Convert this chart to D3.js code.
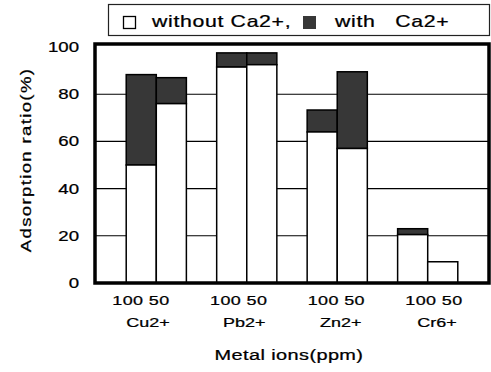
<!DOCTYPE html>
<html>
<head>
<meta charset="utf-8">
<script src="https://cdn.jsdelivr.net/npm/d3@7"></script>
<style>
  html, body { margin: 0; padding: 0; background: #fff; }
  svg { display: block; }
  text { font-family: "Liberation Sans", Arial, Helvetica, sans-serif; fill: #000; stroke: #000; stroke-width: 0.25px; }
</style>
</head>
<body>
<svg id="chart" width="491" height="372"></svg>
<script>
// ---- data ----
const groups = ["Cu2+", "Pb2+", "Zn2+", "Cr6+"];
const concentrations = ["100", "50"];
// adsorption ratio (%) without Ca2+ (white part)
const without100 = [50, 91.5, 64, 20.5];
const without50  = [76, 92.5, 57, 9];
// adsorption ratio (%) with Ca2+ (top of dark part)
const with100 = [88.3, 97.5, 73.3, 23];
const with50  = [87, 97.5, 89.5, 9];
const yTicks = [0, 20, 40, 60, 80, 100];
const gridTicks = [20, 40, 60, 80];
const legendLabels = ["without Ca2+,", "with   Ca2+"];
const xTitle = "Metal ions(ppm)";
const yTitle = "Adsorption ratio(%)";

// ---- layout ----
const svg = d3.select("#chart");
const SX = 1.33; // horizontal stretch of the lettering
const frame = { left: 95, right: 489, top: 44, bottom: 283 };
const darkFill = "#373737";

const y = d3.scaleLinear().domain([0, 100]).range([283, 47]);
const x = d3.scaleBand().domain(groups).range([frame.left, frame.right])
  .paddingInner(0.335).paddingOuter(0.345);
const xSub = d3.scaleBand().domain(concentrations).range([0, x.bandwidth()]);
const labelX = d3.scalePoint().domain(groups).range([141, 434]);
const nameX = d3.scalePoint().domain(groups).range([148, 437]);

function stretchedText(parent, tx, ty, str, size, anchor, rot, ls) {
  const g = parent.append("g")
    .attr("transform", `translate(${tx},${ty})${rot ? ` rotate(${rot})` : ""} scale(${SX},1)`);
  g.append("text")
    .attr("text-anchor", anchor)
    .style("font-size", size + "px")
    .style("letter-spacing", (ls || 0) + "px")
    .style("white-space", "pre")
    .text(str);
  return g;
}

// gridlines
const grid = svg.append("g");
grid.selectAll("line").data(gridTicks).join("line")
  .attr("x1", frame.left).attr("x2", frame.right)
  .attr("y1", d => y(d)).attr("y2", d => y(d))
  .attr("stroke", "#000").attr("stroke-width", 1.1);

// bars
const withoutVals = { "100": without100, "50": without50 };
const withVals = { "100": with100, "50": with50 };
const barData = [];
groups.forEach((g, i) => {
  concentrations.forEach(c => {
    barData.push({ group: g, conc: c, without: withoutVals[c][i], withCa: withVals[c][i] });
  });
});
const bars = svg.append("g").selectAll("g").data(barData).join("g")
  .attr("transform", d => `translate(${x(d.group) + xSub(d.conc)},0)`);
bars.filter(d => d.withCa > d.without).append("rect")
  .attr("x", 0).attr("width", xSub.bandwidth())
  .attr("y", d => y(d.withCa)).attr("height", d => y(d.without) - y(d.withCa))
  .attr("fill", darkFill).attr("stroke", "#000").attr("stroke-width", 1.5);
bars.append("rect")
  .attr("x", 0).attr("width", xSub.bandwidth())
  .attr("y", d => y(d.without)).attr("height", d => y(0) - y(d.without))
  .attr("fill", "#fff").attr("stroke", "#000").attr("stroke-width", 1.5);

// frame
svg.append("rect")
  .attr("x", frame.left).attr("y", frame.top)
  .attr("width", frame.right - frame.left).attr("height", frame.bottom - frame.top)
  .attr("fill", "none").attr("stroke", "#000").attr("stroke-width", 3.5);

// y tick labels
yTicks.forEach(t => {
  stretchedText(svg, 79, y(t) + 5, String(t), 14, "end", 0, 0);
});

// x labels: concentrations and ions
groups.forEach(g => {
  stretchedText(svg, labelX(g), 305, concentrations.join(" "), 13.5, "middle", 0, 0.3);
  stretchedText(svg, nameX(g), 327, g, 13.5, "middle", 0, 0);
});

// axis titles
stretchedText(svg, 289, 360, xTitle, 15, "middle", 0, 0.3);
stretchedText(svg, 31, 160, yTitle, 14, "middle", -90, 1);

// legend
svg.append("rect").attr("x", 108.5).attr("y", 4.5).attr("width", 381).attr("height", 31)
  .attr("fill", "#fff").attr("stroke", "#222").attr("stroke-width", 1.2);
svg.append("rect").attr("x", 123.5).attr("y", 16.5).attr("width", 12).attr("height", 12)
  .attr("fill", "#fff").attr("stroke", "#000").attr("stroke-width", 1.3);
svg.append("rect").attr("x", 303).attr("y", 16).attr("width", 13).attr("height", 13)
  .attr("fill", darkFill);
stretchedText(svg, 152, 27, legendLabels[0], 16, "start", 0, 0.5);
stretchedText(svg, 335, 27, legendLabels[1], 16, "start", 0, 0.5);
</script>
</body>
</html>
